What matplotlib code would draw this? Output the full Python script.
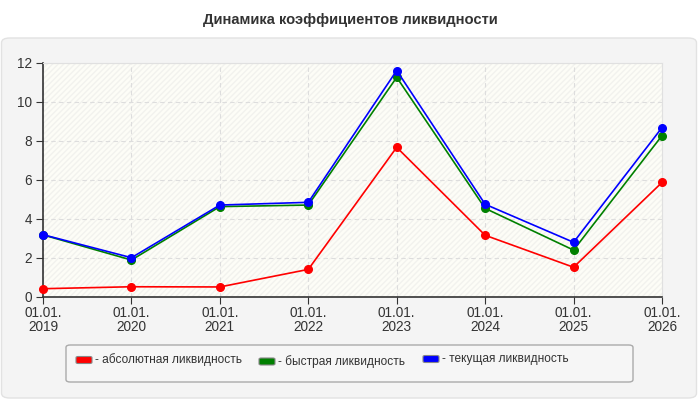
import matplotlib.pyplot as plt
from matplotlib.patches import FancyBboxPatch, Rectangle
import numpy as np

years = ["2019", "2020", "2021", "2022", "2023", "2024", "2025", "2026"]
tick_labels = ["01.01.\n" + y for y in years]
absolute = [0.41, 0.51, 0.50, 1.40, 7.66, 3.15, 1.51, 5.86]
quick = [3.17, 1.88, 4.62, 4.70, 11.25, 4.53, 2.39, 8.26]
current = [3.18, 2.00, 4.70, 4.84, 11.60, 4.74, 2.79, 8.67]
series_names = ["- абсолютная ликвидность", "- быстрая ликвидность", "- текущая ликвидность"]
colors = ["#ff0000", "#008000", "#0000ff"]

plt.rcParams['font.family'] = ['Liberation Sans', 'DejaVu Sans']
fig = plt.figure(figsize=(7, 4), dpi=100)
fig.patch.set_facecolor('white')

# grey panel behind everything
panel = FancyBboxPatch((1.5 / 700, 1 - 398 / 400), 695 / 700, 360 / 400,
                       boxstyle="round,pad=0,rounding_size=0.012",
                       transform=fig.transFigure, facecolor='#f4f4f4', edgecolor='#e2e2e2', lw=1,
                       zorder=-10)
fig.patches.append(panel)
fig.text(0.5, 1 - 20 / 400, "Динамика коэффициентов ликвидности", ha='center', va='center',
         fontsize=10.6, fontweight='bold', color='#333333')

ax = fig.add_axes([43 / 700, 1 - 296.7 / 400, (662 - 43) / 700, (296.7 - 62.7) / 400])
ax.set_facecolor('#fdfdf7')
ax.add_patch(Rectangle((0, 0), 1, 1, transform=ax.transAxes, facecolor='none',
                       edgecolor='#f2f2ee', hatch='//////', lw=0, zorder=0))
x = np.arange(len(years))
for vals, c in zip([absolute, quick, current], colors):
    ax.plot(x, vals, color=c, lw=1.2, marker='o', ms=5.5, zorder=3, clip_on=False)

ax.set_xlim(0, len(years) - 1)
ax.set_ylim(0, 12)
ax.set_xticks(x)
ax.set_xticklabels(tick_labels, fontsize=9.8, color='#333333', linespacing=0.95)
ax.set_yticks(np.arange(0, 13, 2))
ax.tick_params(axis='y', labelsize=9.8, colors='#333333', length=5, pad=3)
ax.tick_params(axis='x', length=5, pad=2, colors='#333333')
ax.grid(True, color='#dddddd', ls=(0, (4, 3)), lw=0.8)
ax.set_axisbelow(True)
for s in ['top', 'right']:
    ax.spines[s].set_color('#e0e0e0')
for s in ['left', 'bottom']:
    ax.spines[s].set_color('#333333')
    ax.spines[s].set_linewidth(1.2)

# legend box
lx0, ly0, lx1, ly1 = 66 / 700, 1 - 382 / 400, 633 / 700, 1 - 345 / 400
leg = FancyBboxPatch((lx0, ly0), lx1 - lx0, ly1 - ly0, boxstyle="round,pad=0,rounding_size=0.006",
                     transform=fig.transFigure, facecolor='#f6f6f6', edgecolor='#aaaaaa', lw=1,
                     zorder=-5)
fig.patches.append(leg)
handle_x = [76, 259, 423]
handle_y = [360, 361.5, 359]
for hx, hy, name, c in zip(handle_x, handle_y, series_names, colors):
    fig.patches.append(FancyBboxPatch((hx / 700, 1 - (hy + 3.5) / 400), 16 / 700, 7 / 400,
                                      boxstyle="round,pad=0,rounding_size=0.003",
                                      transform=fig.transFigure, facecolor=c,
                                      edgecolor='#888888', lw=0.8))
    fig.text((hx + 19) / 700, 1 - hy / 400, name, ha='left', va='center', fontsize=8.6, color='#333333')

fig.savefig("out.png", dpi=100)
